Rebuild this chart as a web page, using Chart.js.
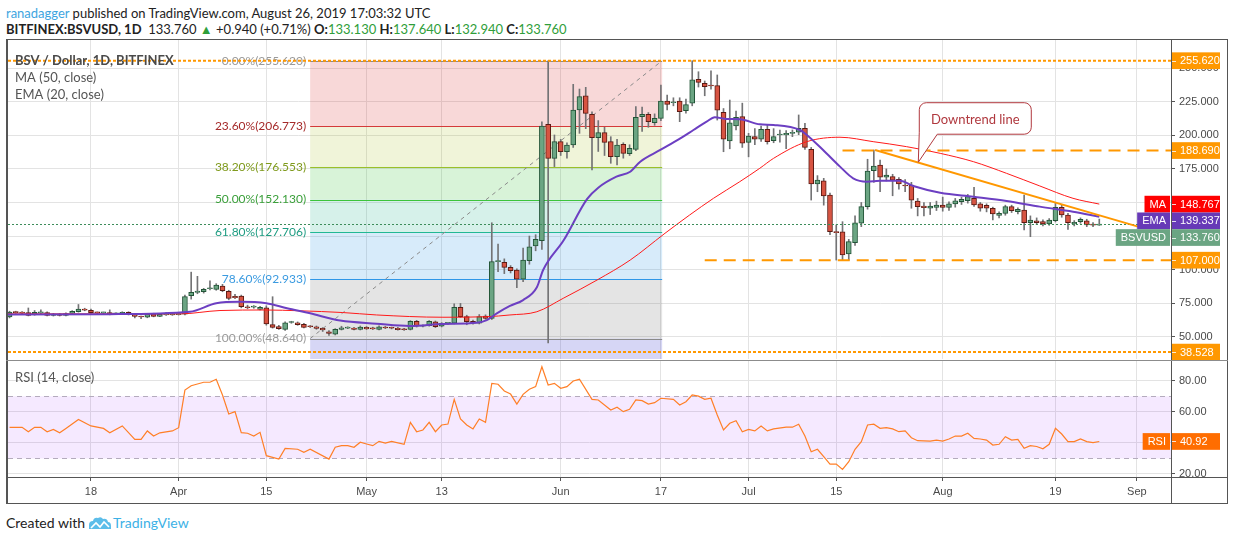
<!DOCTYPE html>
<html>
<head>
<meta charset="utf-8">
<title>BSV / Dollar, 1D</title>
<script src="https://cdn.jsdelivr.net/npm/chart.js@4.4.1/dist/chart.umd.min.js"></script>
<style>
  html,body{margin:0;padding:0;background:#fff;}
  body{position:relative;width:1234px;height:540px;overflow:hidden;font-family:Lato,"Open Sans",sans-serif;color:#222;}
  .hdr{position:absolute;left:6px;font-size:13px;line-height:16px;white-space:nowrap;}
  #h1{top:5px;}
  #h2{top:21px;}
  #h1 .user{color:#3ea5df;}
  #h2 .g{color:#2f9e3a;}
  canvas{position:absolute;left:0;}
  #mainc{top:40px;}
  #rsic{top:360px;}
  #frame{position:absolute;left:6px;top:39px;width:1219px;height:463px;border:1px solid #555;border-left-width:2px;}
  .ln{position:absolute;background:#555;}
  #foot{position:absolute;left:6px;top:514px;font-size:14px;line-height:18px;white-space:nowrap;}
  #foot svg{vertical-align:-2px;margin:0 1px 0 3px;}
  #foot .tv{color:#3cb1e6;}
</style>
</head>
<body>
<div class="hdr" id="h1"><span class="user">ranadagger</span> published on TradingView.com, August 26, 2019 17:03:32 UTC</div>
<div class="hdr" id="h2"><b>BITFINEX:BSVUSD, 1D</b>&nbsp; 133.760 <span class="g">&#9650;</span> +0.940 (+0.71%) <b>O:</b><span class="g">133.130</span> <b>H:</b><span class="g">137.640</span> <b>L:</b><span class="g">132.940</span> <b>C:</b><span class="g">133.760</span></div>
<canvas id="mainc" width="1234" height="320"></canvas>
<canvas id="rsic" width="1234" height="145"></canvas>
<div id="frame"></div>
<div class="ln" style="left:1171px;top:39px;width:1px;height:464px"></div>
<div class="ln" style="left:6px;top:477px;width:1222px;height:1px"></div>
<div class="ln" style="left:6px;top:360px;width:1222px;height:1px;background:#8c8c8c"></div>
<div id="foot">Created with<svg width="24" height="14" viewBox="0 0 24 14"><path d="M1 13 L1 9 Q1 5 5 5 Q6 1 10 2 Q13 0 15 3 Q19 2 20 6 Q23 6 23 10 L23 13 Z" fill="#5cbde9"/><path d="M3 12 L8 7 L12 11 L16 6 L21 11" stroke="#fff" stroke-width="1.6" fill="none"/></svg><span class="tv">TradingView</span></div>

<script>
var FONT = 'Lato, "Open Sans", sans-serif';
var AXFONT = '"Liberation Sans", Arial, sans-serif';

// daily candles; day numbers count from 1 Mar 2019 = 0, first candle is 5 Mar
var firstDay = 4;
var openP = [
  64.7, 68.4, 68.2, 67.9, 66.7, 67.8, 67.9, 65.9, 66.9, 65.9,
  67.4, 68.7, 70.6, 69.7, 67.9, 67.7, 68.0, 67.1, 67.1, 68.1,
  66.6, 64.8, 64.5, 67.1, 65.2, 66.2, 66.3, 66.5, 66.7, 80.5,
  83.0, 83.5, 85.7, 85.3, 87.8, 83.8, 80.0, 80.3, 72.3, 72.0,
  70.4, 71.6, 59.0, 57.5, 55.5, 60.6, 60.4, 59.3, 57.8, 57.4,
  56.2, 53.7, 51.8, 55.5, 56.4, 56.5, 55.5, 57.0, 56.5, 55.5,
  57.0, 56.5, 56.3, 55.7, 55.5, 61.5, 57.8, 58.3, 61.0, 57.8,
  59.9, 60.0, 71.9, 64.9, 61.5, 60.0, 65.4, 63.7, 105.9, 105.4,
  101.7, 99.7, 92.8, 106.6, 117.6, 121.5, 208.2, 182.9, 195.3, 187.8,
  192.8, 218.9, 229.5, 215.7, 198.3, 202.0, 195.3, 184.1, 193.3, 186.3,
  189.6, 213.9, 215.7, 209.4, 212.7, 225.6, 224.3, 225.6, 218.4, 223.9,
  241.8, 238.8, 237.0, 237.0, 217.2, 195.8, 207.0, 213.9, 194.8, 199.0,
  197.1, 204.5, 196.0, 200.3, 200.3, 201.5, 202.3, 205.3, 189.6, 163.8,
  166.2, 155.6, 128.2, 128.2, 111.6, 120.0, 134.5, 146.9, 173.7, 177.9,
  168.8, 169.2, 167.3, 162.5, 163.0, 151.1, 147.3, 145.7, 146.4, 148.1,
  146.4, 148.9, 150.6, 151.3, 153.1, 148.9, 147.9, 145.7, 140.4, 141.9,
  146.9, 143.1, 144.4, 134.9, 136.4, 135.7, 134.0, 136.4, 146.4, 140.7,
  134.1, 135.7, 136.4, 133.5, 133.13
];
var highP = [
  69.0, 69.0, 68.8, 71.4, 69.5, 70.0, 68.5, 67.4, 67.3, 67.8,
  69.4, 74.0, 71.2, 70.6, 68.4, 68.3, 70.0, 67.8, 68.6, 68.6,
  67.0, 65.3, 67.1, 67.5, 67.1, 68.0, 67.5, 67.6, 81.0, 98.1,
  95.0, 86.0, 91.7, 89.5, 89.0, 84.6, 81.5, 81.0, 73.5, 73.2,
  72.7, 73.0, 79.8, 58.4, 61.0, 61.5, 61.0, 60.0, 58.3, 58.0,
  56.8, 54.5, 56.0, 57.8, 57.4, 57.0, 58.0, 57.6, 57.1, 58.1,
  57.7, 57.2, 57.0, 56.2, 62.0, 62.2, 58.9, 62.0, 61.7, 60.5,
  60.6, 74.5, 74.8, 66.0, 62.3, 66.5, 66.3, 134.9, 119.0, 108.0,
  103.0, 100.5, 116.0, 125.0, 126.0, 210.0, 255.6, 200.3, 197.0, 194.5,
  238.0, 234.5, 235.8, 217.6, 211.0, 206.0, 199.0, 197.0, 194.5, 193.0,
  221.4, 221.0, 217.0, 216.0, 237.5, 230.0, 228.0, 228.0, 227.0, 255.6,
  247.4, 240.5, 248.0, 245.0, 220.0, 226.3, 218.0, 224.0, 201.5, 205.0,
  207.0, 208.0, 205.0, 204.0, 203.5, 204.0, 215.2, 209.0, 191.0, 170.0,
  168.0, 157.0, 133.2, 135.7, 122.5, 140.0, 150.0, 182.2, 189.1, 181.6,
  175.0, 171.0, 168.5, 167.0, 165.0, 153.0, 150.0, 150.0, 151.0, 154.0,
  150.5, 153.0, 154.0, 156.0, 161.3, 150.0, 149.0, 146.5, 143.0, 148.0,
  148.0, 146.0, 155.6, 140.0, 138.5, 137.0, 138.0, 150.0, 148.0, 142.0,
  136.5, 138.5, 137.5, 135.0, 137.64
];
var lowP = [
  64.0, 67.4, 67.2, 65.5, 66.0, 67.0, 65.4, 65.4, 65.4, 65.4,
  67.0, 68.3, 69.3, 67.5, 67.2, 67.2, 66.3, 66.6, 66.7, 66.2,
  64.0, 63.4, 64.1, 64.8, 64.9, 65.8, 65.9, 66.1, 66.3, 78.0,
  82.0, 82.5, 84.8, 84.6, 83.5, 77.5, 78.3, 71.5, 70.8, 71.2,
  69.9, 58.6, 56.4, 55.4, 54.6, 60.0, 58.5, 56.5, 56.8, 55.5,
  53.9, 51.0, 51.3, 55.0, 56.0, 55.0, 55.0, 55.4, 55.3, 55.0,
  56.0, 55.8, 54.8, 54.6, 55.0, 57.2, 57.3, 57.8, 56.8, 57.3,
  59.2, 59.5, 64.3, 58.9, 59.4, 59.5, 63.0, 62.8, 98.4, 97.0,
  97.5, 86.5, 91.0, 104.0, 114.0, 115.0, 45.3, 176.7, 185.0, 183.0,
  191.0, 201.5, 205.0, 174.2, 188.0, 185.0, 179.2, 178.0, 183.0, 185.0,
  188.5, 203.0, 206.0, 207.5, 211.0, 218.9, 222.0, 210.2, 216.5, 222.0,
  236.0, 229.5, 234.5, 211.4, 187.8, 190.0, 204.0, 191.0, 184.0, 193.0,
  195.5, 193.5, 194.5, 195.0, 190.0, 199.0, 200.5, 189.5, 151.8, 158.0,
  148.0, 126.0, 107.1, 107.0, 107.0, 118.0, 132.0, 145.0, 165.0, 158.0,
  166.0, 155.0, 160.0, 158.0, 145.7, 140.0, 140.0, 141.0, 144.0, 143.5,
  144.0, 146.5, 148.5, 149.5, 147.0, 143.5, 143.0, 137.0, 138.5, 140.5,
  142.5, 141.5, 129.5, 124.5, 133.5, 132.5, 133.0, 135.5, 139.0, 130.0,
  132.5, 134.5, 132.0, 132.0, 132.94
];
var closeP = [
  68.4, 67.9, 67.6, 65.9, 68.2, 67.9, 65.9, 66.9, 65.9, 67.3,
  68.9, 70.6, 69.7, 67.9, 67.7, 67.8, 66.7, 67.2, 68.1, 66.6,
  65.2, 64.7, 66.7, 65.2, 66.7, 67.1, 67.1, 67.2, 79.8, 83.1,
  83.9, 85.3, 86.1, 88.5, 84.3, 78.6, 79.0, 72.3, 71.6, 72.4,
  71.9, 59.5, 57.0, 56.0, 60.4, 60.8, 59.0, 57.0, 57.4, 56.2,
  55.0, 52.5, 55.5, 56.7, 56.6, 55.5, 57.2, 55.8, 55.8, 57.4,
  56.5, 56.3, 55.3, 55.2, 61.5, 57.8, 58.3, 61.5, 57.4, 59.9,
  60.1, 71.9, 64.9, 61.2, 60.0, 64.9, 63.7, 105.9, 106.2, 101.7,
  99.2, 92.8, 107.0, 117.0, 122.6, 207.0, 182.9, 195.3, 187.8, 192.8,
  218.9, 228.8, 216.4, 198.3, 202.0, 194.8, 184.1, 192.8, 186.6, 190.3,
  213.5, 215.7, 210.2, 212.7, 225.6, 223.1, 224.5, 217.6, 222.9, 241.3,
  239.5, 236.3, 236.8, 218.7, 197.1, 209.4, 213.5, 194.1, 199.5, 197.1,
  204.5, 195.3, 199.0, 200.5, 201.5, 202.3, 205.3, 191.1, 163.8, 166.7,
  154.8, 128.2, 127.5, 110.9, 120.8, 134.9, 146.9, 173.4, 177.2, 168.8,
  170.5, 166.7, 163.8, 162.3, 151.8, 146.9, 146.1, 147.4, 148.1, 146.4,
  148.9, 151.3, 152.4, 154.3, 148.1, 145.7, 145.7, 141.4, 141.9, 146.9,
  143.9, 144.9, 134.9, 136.9, 134.9, 134.1, 136.9, 146.4, 140.7, 134.9,
  135.2, 137.4, 133.2, 133.1, 133.76
];

// moving averages
var emaDays = [3.75, 20, 32.8, 37, 40.8, 45, 48.3, 52, 56.8, 62.6, 67.9, 73.2, 78.6, 80.2, 81.8, 83.9, 86, 88.2, 89.2, 92.5, 96.2, 98, 100.9, 103.1, 104.7, 107.9, 111.1, 113.2, 115.3, 116.6, 118.5, 120.6, 123.8, 126, 130.2, 131.3, 133.9, 136.6, 138.7, 140.9, 143, 146.2, 148.3, 152.6, 157.9, 163.2, 168.5, 173.8, 178];
var emaVals = [66.5, 66.8, 68.6, 74.9, 76.0, 74.9, 71.2, 67.4, 62.0, 59.7, 58.0, 59.5, 60.4, 62.4, 67.4, 72.9, 77.3, 86.8, 99.7, 122.0, 152.5, 161.0, 169.2, 172.9, 180.4, 189.1, 197.8, 204.0, 210.2, 213.5, 212.2, 212.0, 208.2, 207.7, 204.0, 200.3, 189.1, 176.7, 168.0, 165.5, 166.2, 166.2, 162.3, 157.3, 154.3, 151.1, 146.9, 143.1, 139.3];
var maDays = [3.75, 31.2, 37.6, 44.8, 50.4, 57.2, 62.6, 73.2, 80.2, 83.9, 88.2, 92.4, 97.8, 103.1, 108.5, 112.6, 116.4, 120.6, 123.8, 126, 131.3, 136.6, 141.9, 147.2, 152.6, 157.9, 163.2, 168.5, 173.8, 178];
var maVals = [67.0, 67.0, 69.5, 69.9, 69.3, 68.0, 66.2, 64.5, 64.9, 66.2, 68.6, 78.6, 92.2, 107.1, 126.5, 140.7, 153.1, 165.5, 175.5, 182.9, 195.3, 198.6, 195.3, 191.6, 186.6, 180.4, 171.7, 162.3, 153.1, 148.8];

// RSI (14, close)
var rsiDays = [4, 6, 7, 8, 9, 10, 11, 12, 13, 15,
  17, 19, 20, 22, 24, 25, 26, 27, 28, 30,
  31, 32, 33, 35, 36, 37, 38, 39, 40, 41,
  42, 43, 44, 45, 47, 48, 50, 51, 52, 55,
  56, 57, 58, 59, 60, 61, 62, 63, 64, 65,
  67, 68, 69, 70, 71, 72, 73, 74, 75, 76,
  77, 78, 79, 80, 81, 82, 83, 84, 85, 86,
  87, 88, 89, 90, 91, 92, 93, 94, 95, 97,
  98, 100, 101, 102, 103, 104, 105, 106, 107, 108,
  110, 111, 112, 113, 114, 115, 116, 117, 118, 119,
  120, 121, 122, 123, 124, 125, 126, 128, 129, 130,
  131, 132, 133, 134, 135, 136, 137, 138, 139, 140,
  141, 142, 143, 144, 145, 146, 147, 148, 149, 151,
  152, 153, 154, 155, 156, 157, 158, 159, 160, 161,
  162, 163, 164, 165, 166, 167, 168, 169, 170, 171,
  172, 173, 174, 175, 176, 177, 178];
var rsiVals = [50, 50, 47.2, 50, 50, 47.2, 48.7, 46.5, 49.3, 55.1,
  50.9, 49.3, 46.5, 50.9, 42.3, 42.3, 47.7, 44.4, 46.5, 47.7,
  49.8, 74, 76.8, 79, 79, 80.9, 70.8, 58.6, 60.1, 46.6,
  46.2, 44.4, 46.8, 31.8, 29.6, 36.5, 35.9, 34, 35.9, 29.6,
  37.2, 38.2, 38.2, 37.2, 40.4, 39.3, 38.2, 41, 39.9, 41,
  39.1, 53.2, 47.2, 48.3, 53.2, 47.2, 51.5, 52.1, 68, 55.4,
  51.5, 49, 55.4, 53.2, 78.3, 77.7, 73.4, 71.4, 65, 71.2,
  74.5, 76.2, 89, 77.2, 78.3, 75.1, 76.2, 79.8, 80.9, 68,
  67.6, 61.2, 62.9, 60.1, 61.6, 67.6, 67.2, 65, 65.9, 68.7,
  68, 64.4, 66.5, 70.8, 70.1, 68, 68.7, 58, 48.3, 52.6,
  54.3, 47.2, 48.7, 47.7, 50.9, 47.7, 49, 50.1, 50.1, 52,
  44.4, 34.3, 35.9, 31.1, 26.4, 26.4, 23, 27.9, 35.9, 40.8,
  51.5, 52, 49.4, 49.8, 49, 47.2, 47.7, 43.3, 41.4, 41.2,
  41.8, 41.2, 42.5, 44.4, 44.4, 46.2, 42.9, 42.5, 41.8, 38.6,
  39.1, 44, 41.8, 42.3, 36.5, 38.2, 37.7, 36.2, 39.1, 49.4,
  45.7, 40.8, 40.8, 42.5, 40.8, 40.2, 40.92];

// axes
var xTickDays = [17, 31, 45, 61, 73, 92, 108, 122, 136, 153, 171, 184];
var xTickLabels = ['18', 'Apr', '15', 'May', '13', 'Jun', '17', 'Jul', '15', 'Aug', '19', 'Sep'];
var priceTicks = [50, 75, 100, 125, 150, 175, 200, 225, 250];
var rsiTicks = [20, 40, 60, 80];

// drawings
var fibPct = [0, 23.6, 38.2, 50, 61.8, 78.6, 100];
var fibPrices = [255.620, 206.773, 176.553, 152.130, 127.706, 92.933, 48.640];
var fibFrom = 52, fibTo = 108.2;
var levelDotted = [255.620, 38.528];
var levelDashed = [188.690, 107.000];
var levelDashedFrom = [137, 115];
var trendA = [142.2, 189.1], trendB = [184.2, 132.0];
var calloutTip = [149.1, 180.0];
var maLast = 148.767, emaLast = 139.337, lastClose = 133.760, rsiLast = 40.92;

var ORANGE = '#ff9800';
var fibFill = ['rgba(220,60,60,0.2)', 'rgba(160,185,20,0.16)', 'rgba(40,190,40,0.18)', 'rgba(30,180,140,0.18)', 'rgba(40,150,230,0.19)', 'rgba(120,120,120,0.2)', 'rgba(70,70,210,0.22)'];
var fibLine = ['#8a8a8a', '#d43a3a', '#9bbf2a', '#3cc43c', '#22b894', '#2f97e8', '#8a8a8a'];
var fibText = ['#9a9a9a', '#a52a2a', '#7f9a1c', '#3a9f3a', '#1f9c82', '#3a9ae0', '#9a9a9a'];

Chart.defaults.font.family = FONT;

function hline(ctx, x0, x1, y) {
  ctx.beginPath(); ctx.moveTo(x0, y); ctx.lineTo(x1, y); ctx.stroke();
}

// no extra room for edge labels: the panes must keep their exact pixel size
function noPad(s) {
  s.paddingTop = 0; s.paddingBottom = 0; s.paddingLeft = 0; s.paddingRight = 0;
}

function dayAxis(labels) {
  return {
    type: 'linear', min: 3.752, max: 189.45, offset: false,
    afterBuildTicks: function (s) { s.ticks = xTickDays.map(function (v) { return { value: v }; }); },
    ticks: {
      display: labels, autoSkip: false, maxRotation: 0, padding: 4, color: '#4a4a4a',
      font: { family: AXFONT, size: 11 },
      callback: function (v, i) { return xTickLabels[i]; }
    },
    grid: { color: '#e3e3e3', offset: false, drawTicks: labels, tickLength: 4, tickColor: '#555' },
    border: { display: false },
    afterFit: function (s) { s.height = labels ? 27 : 0; noPad(s); }
  };
}

function valueAxis(min, max, ticks, digits) {
  return {
    position: 'right', min: min, max: max,
    afterBuildTicks: function (s) { s.ticks = ticks.map(function (v) { return { value: v }; }); },
    ticks: { padding: 4, color: '#4a4a4a', autoSkip: false, font: { family: AXFONT, size: 11 }, callback: function (v) { return v.toFixed(digits); } },
    grid: { color: '#e3e3e3', tickLength: 4, tickColor: '#555' },
    border: { display: false },
    afterFit: function (s) { s.width = 57; noPad(s); }
  };
}

// value tag on the right axis, optional name tag left of it
function tag(ctx, area, yc, text, color, name) {
  var h = 16.7;
  ctx.fillStyle = color;
  ctx.fillRect(area.right + 1, yc - h / 2, 48, h);
  ctx.strokeStyle = 'rgba(255,255,255,0.8)'; ctx.lineWidth = 1;
  hline(ctx, area.right + 1, area.right + 5, Math.round(yc) + 0.5);
  ctx.fillStyle = '#fff';
  ctx.font = '11px ' + AXFONT;
  ctx.textAlign = 'left'; ctx.textBaseline = 'middle';
  ctx.fillText(text, area.right + 9, yc + 0.5);
  if (name) {
    var w = ctx.measureText(name).width + 9;
    ctx.fillStyle = color;
    ctx.fillRect(area.right - 1 - w, yc - h / 2, w, h);
    ctx.fillStyle = '#fff';
    ctx.textAlign = 'right';
    ctx.fillText(name, area.right - 5, yc + 0.5);
  }
}

var mainDrawings = {
  id: 'mainDrawings',
  beforeDatasetsDraw: function (chart) {
    var ctx = chart.ctx, a = chart.chartArea, x = chart.scales.x, y = chart.scales.y;
    var x0 = x.getPixelForValue(fibFrom), x1 = x.getPixelForValue(fibTo);
    ctx.save();
    ctx.beginPath(); ctx.rect(a.left, a.top, a.right - a.left, a.bottom - a.top); ctx.clip();
    for (var i = 0; i < fibPrices.length; i++) {
      var top = y.getPixelForValue(fibPrices[i]);
      var bot = i + 1 < fibPrices.length ? y.getPixelForValue(fibPrices[i + 1]) : a.bottom;
      ctx.fillStyle = fibFill[i];
      ctx.fillRect(x0, top, x1 - x0, bot - top);
    }
    ctx.lineWidth = 1;
    fibPrices.forEach(function (p, i) {
      ctx.strokeStyle = fibLine[i];
      hline(ctx, x0, x1, Math.round(y.getPixelForValue(p)) + 0.5);
    });
    ctx.setLineDash([4, 4]);
    ctx.strokeStyle = '#8a8a8a';
    ctx.beginPath();
    ctx.moveTo(x0, y.getPixelForValue(fibPrices[6]));
    ctx.lineTo(x1, y.getPixelForValue(fibPrices[0]));
    ctx.stroke();
    ctx.setLineDash([]);
    ctx.font = '12px ' + FONT;
    ctx.textAlign = 'right'; ctx.textBaseline = 'middle';
    fibPrices.forEach(function (p, i) {
      ctx.fillStyle = fibText[i];
      ctx.fillText(fibPct[i].toFixed(2) + '%(' + p.toFixed(3) + ')', x0 - 4, y.getPixelForValue(p));
    });
    ctx.restore();
  },
  afterDatasetsDraw: function (chart) {
    var ctx = chart.ctx, a = chart.chartArea, x = chart.scales.x, y = chart.scales.y;
    ctx.save();
    ctx.beginPath(); ctx.rect(a.left, a.top, a.right - a.left, a.bottom - a.top); ctx.clip();
    // last price line
    ctx.strokeStyle = '#3c8c5a'; ctx.lineWidth = 1; ctx.setLineDash([2, 2]);
    hline(ctx, a.left, a.right, Math.round(y.getPixelForValue(lastClose)) + 0.5);
    // horizontal levels
    ctx.strokeStyle = ORANGE; ctx.lineWidth = 2;
    ctx.setLineDash([3, 2]);
    levelDotted.forEach(function (p) { hline(ctx, a.left, a.right, y.getPixelForValue(p)); });
    ctx.setLineDash([12, 7]);
    levelDashed.forEach(function (p, i) { hline(ctx, x.getPixelForValue(levelDashedFrom[i]), a.right, y.getPixelForValue(p)); });
    ctx.setLineDash([]);
    // downtrend line
    ctx.beginPath();
    ctx.moveTo(x.getPixelForValue(trendA[0]), y.getPixelForValue(trendA[1]));
    ctx.lineTo(x.getPixelForValue(trendB[0]), y.getPixelForValue(trendB[1]));
    ctx.stroke();
    ctx.restore();

    // callout
    var tx = x.getPixelForValue(calloutTip[0]), ty = y.getPixelForValue(calloutTip[1]);
    var bl = tx + 1, bt = ty - 59.5, bw = 112, bh = 31.5, r = 7, bb = bt + bh;
    ctx.save();
    ctx.beginPath();
    ctx.moveTo(bl + r, bt);
    ctx.lineTo(bl + bw - r, bt); ctx.arcTo(bl + bw, bt, bl + bw, bt + r, r);
    ctx.lineTo(bl + bw, bb - r); ctx.arcTo(bl + bw, bb, bl + bw - r, bb, r);
    ctx.lineTo(tx + 19, bb);
    ctx.lineTo(tx, ty);
    ctx.lineTo(bl, bb - 2);
    ctx.lineTo(bl, bt + r); ctx.arcTo(bl, bt, bl + r, bt, r);
    ctx.closePath();
    ctx.fillStyle = '#fff'; ctx.fill();
    ctx.strokeStyle = '#b0383e'; ctx.lineWidth = 1; ctx.stroke();
    ctx.fillStyle = '#b0383e';
    ctx.font = '13px ' + FONT; ctx.textAlign = 'center'; ctx.textBaseline = 'middle';
    ctx.fillText('Downtrend line', bl + bw / 2, bt + bh / 2 + 1);
    ctx.restore();
  },
  afterDraw: function (chart) {
    var ctx = chart.ctx, a = chart.chartArea, y = chart.scales.y;
    ctx.save();
    ctx.textAlign = 'left'; ctx.textBaseline = 'middle';
    ctx.fillStyle = '#4a4a4a'; ctx.font = 'bold 13px ' + FONT;
    ctx.fillText('BSV / Dollar, 1D, BITFINEX', a.left + 7, a.top + 21);
    ctx.fillStyle = '#555'; ctx.font = '13px ' + FONT;
    ctx.fillText('MA (50, close)', a.left + 7, a.top + 38);
    ctx.fillText('EMA (20, close)', a.left + 7, a.top + 55);

    var tags = [
      { v: levelDotted[0], c: ORANGE },
      { v: levelDashed[0], c: ORANGE },
      { v: maLast, c: '#ff0000', n: 'MA' },
      { v: emaLast, c: '#673ab7', n: 'EMA' },
      { v: lastClose, c: '#6ba583', n: 'BSVUSD' },
      { v: levelDashed[1], c: ORANGE },
      { v: levelDotted[1], c: ORANGE }
    ];
    var prev = -1e9;
    tags.forEach(function (t) {
      var yc = Math.max(y.getPixelForValue(t.v), prev + 16.7);
      prev = yc;
      tag(ctx, a, yc, t.v.toFixed(3), t.c, t.n);
    });
    ctx.restore();
  }
};

var rsiDrawings = {
  id: 'rsiDrawings',
  beforeDatasetsDraw: function (chart) {
    var ctx = chart.ctx, a = chart.chartArea, y = chart.scales.y;
    var y70 = y.getPixelForValue(70), y30 = y.getPixelForValue(30);
    ctx.save();
    ctx.fillStyle = 'rgba(156,39,255,0.1)';
    ctx.fillRect(a.left, y70, a.right - a.left, y30 - y70);
    ctx.strokeStyle = '#b4abbd'; ctx.lineWidth = 1; ctx.setLineDash([5, 4]);
    hline(ctx, a.left, a.right, Math.round(y70) + 0.5);
    hline(ctx, a.left, a.right, Math.round(y30) + 0.5);
    ctx.restore();
  },
  afterDraw: function (chart) {
    var ctx = chart.ctx, a = chart.chartArea, y = chart.scales.y;
    ctx.save();
    ctx.fillStyle = '#fff';
    ctx.fillRect(a.right + 1, a.bottom, chart.width - a.right, chart.height - a.bottom);
    ctx.fillStyle = '#555'; ctx.font = '13px ' + FONT;
    ctx.textAlign = 'left'; ctx.textBaseline = 'middle';
    ctx.fillText('RSI (14, close)', a.left + 7, a.top + 17);
    tag(ctx, a, y.getPixelForValue(rsiLast), rsiLast.toFixed(2), '#ff6d00', 'RSI');
    ctx.restore();
  }
};

var up = closeP.map(function (c, i) { return c >= openP[i]; });

new Chart(document.getElementById('mainc'), {
  type: 'bar',
  data: {
    datasets: [
      {
        type: 'line', label: 'EMA (20, close)', order: 0,
        data: emaDays.map(function (d, i) { return { x: d, y: emaVals[i] }; }),
        borderColor: '#6c3fc2', borderWidth: 2, pointRadius: 0, cubicInterpolationMode: 'monotone'
      },
      {
        type: 'line', label: 'MA (50, close)', order: 0,
        data: maDays.map(function (d, i) { return { x: d, y: maVals[i] }; }),
        borderColor: '#ff1a1a', borderWidth: 1, pointRadius: 0, cubicInterpolationMode: 'monotone'
      },
      {
        type: 'bar', label: 'body', order: 1, grouped: false,
        data: closeP.map(function (c, i) { return { x: firstDay + i, y: [openP[i], c] }; }),
        backgroundColor: up.map(function (u) { return u ? '#6ba583' : '#d75442'; }),
        borderColor: up.map(function (u) { return u ? '#225437' : '#5b1a13'; }),
        borderWidth: 1, borderSkipped: false, barThickness: 5, minBarLength: 1
      },
      {
        type: 'bar', label: 'wick', order: 2, grouped: false,
        data: lowP.map(function (l, i) { return { x: firstDay + i, y: [l, highP[i]] }; }),
        backgroundColor: '#737375', barThickness: 1
      }
    ]
  },
  options: {
    responsive: false, animation: false, events: [],
    layout: { padding: { left: 8, right: 6, top: 0, bottom: 1 } },
    plugins: { legend: { display: false }, tooltip: { enabled: false } },
    scales: {
      x: dayAxis(false),
      y: valueAxis(33.39, 271.04, priceTicks, 3)
    }
  },
  plugins: [mainDrawings]
});

new Chart(document.getElementById('rsic'), {
  type: 'line',
  data: {
    datasets: [{
      label: 'RSI (14, close)',
      data: rsiDays.map(function (d, i) { return { x: d, y: rsiVals[i] }; }),
      borderColor: '#ff7f27', borderWidth: 1.2, pointRadius: 0, tension: 0
    }]
  },
  options: {
    responsive: false, animation: false, events: [],
    layout: { padding: { left: 8, right: 6, top: 1, bottom: 1 } },
    plugins: { legend: { display: false }, tooltip: { enabled: false } },
    scales: {
      x: dayAxis(true),
      y: valueAxis(18.07, 92.67, rsiTicks, 2)
    }
  },
  plugins: [rsiDrawings]
});
</script>
</body>
</html>
